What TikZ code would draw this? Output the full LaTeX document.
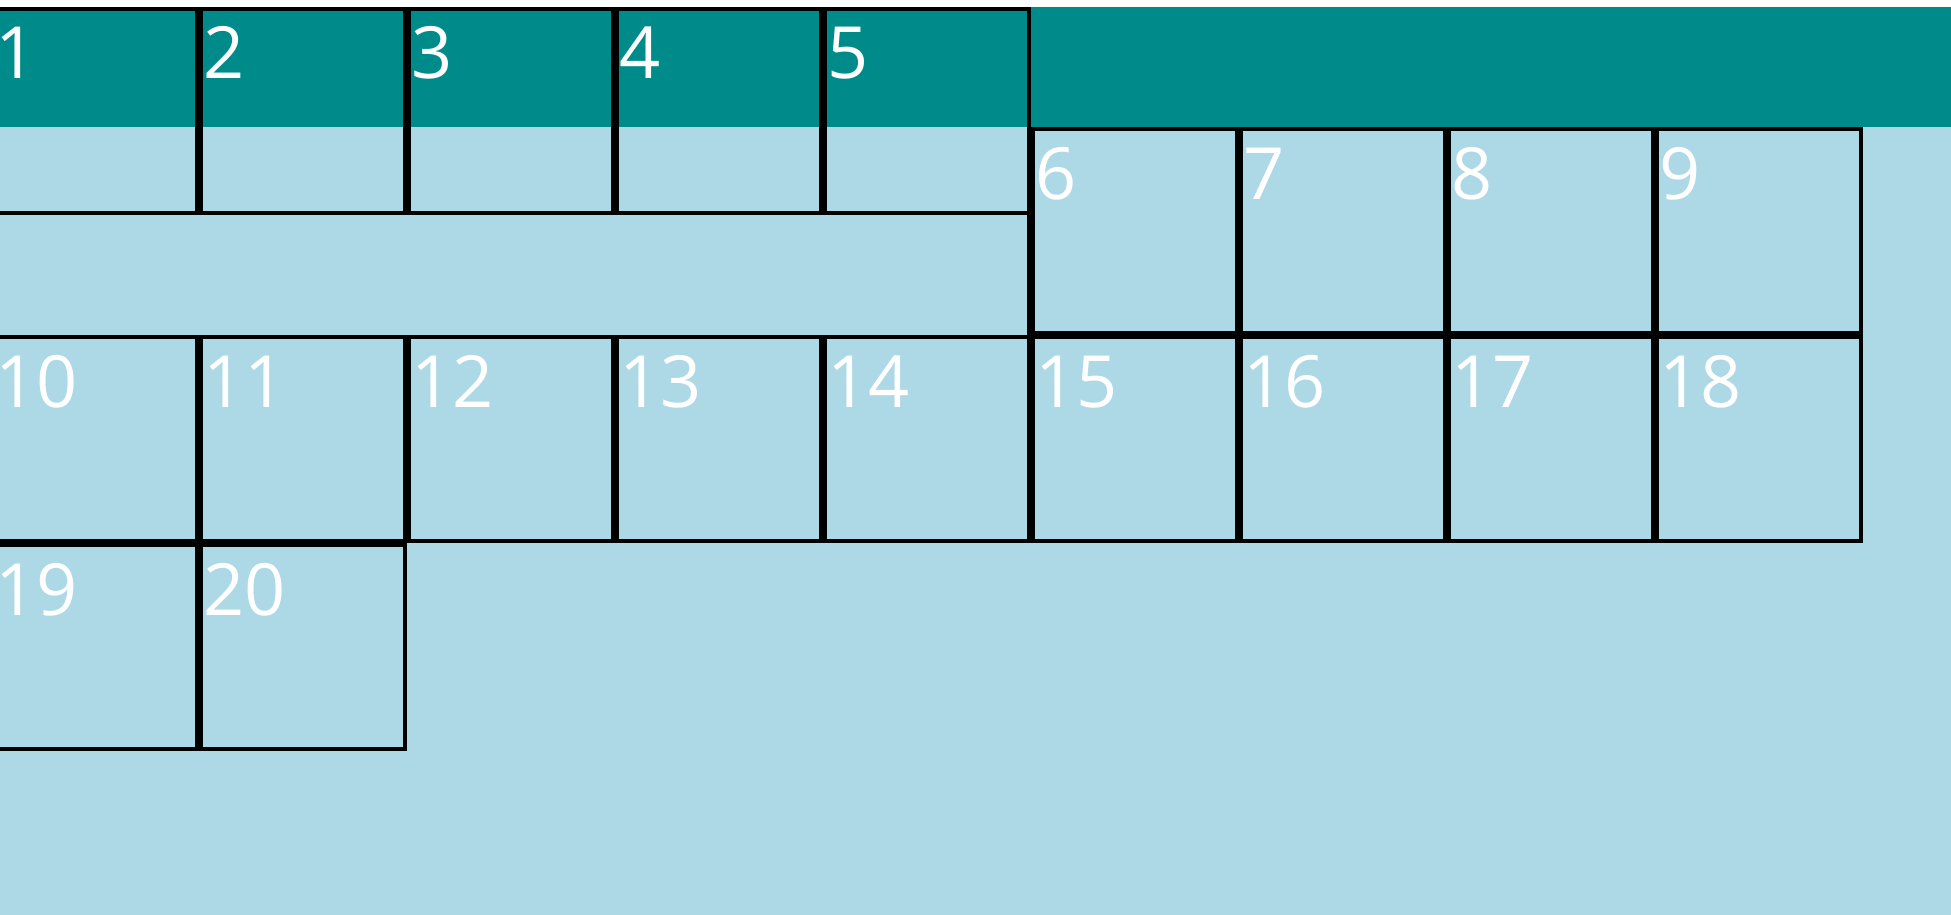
\documentclass[tikz,border=0pt]{standalone}
\usepackage{fontspec}
\setmainfont{Open Sans}
\definecolor{myteal}{HTML}{008B8B}
\definecolor{mylightblue}{HTML}{ADD8E6}
\tikzset{
  cellbox/.style={draw=black, line width=4pt, minimum width=204pt, minimum height=204pt, inner sep=0pt, outer sep=0pt},
  barbox/.style={draw=black, line width=4pt, minimum width=1036pt, minimum height=124pt, inner sep=0pt, outer sep=0pt},
  celltext/.style={text=white, anchor=base west, inner sep=0pt, font=\fontsize{72}{86}\selectfont}
}
\begin{document}
\begin{tikzpicture}[x=1pt, y=-1pt]
  \useasboundingbox (0,0) rectangle (1951,915);
  \clip (0,0) rectangle (1951,915);
  \fill[white] (0,0) rectangle (1951,915);
  \fill[myteal] (0,7) rectangle (1951,127);
  \fill[mylightblue] (0,127) rectangle (1951,915);
  \node[barbox] (bar) at (511,275) {};
  \foreach \n/\c/\y in {1/0/7,2/1/7,3/2/7,4/3/7,5/4/7,
                        6/5/127,7/6/127,8/7/127,9/8/127,
                        10/0/335,11/1/335,12/2/335,13/3/335,14/4/335,15/5/335,16/6/335,17/7/335,18/8/335,
                        19/0/543,20/1/543}{
    \pgfmathsetmacro\xx{-9+208*\c}
    \node[cellbox] (c\n) at (\xx+104, \y+104) {};
    \node[celltext] (t\n) at (\xx+4, \y+72) {\n};
  }
\end{tikzpicture}
\end{document}
